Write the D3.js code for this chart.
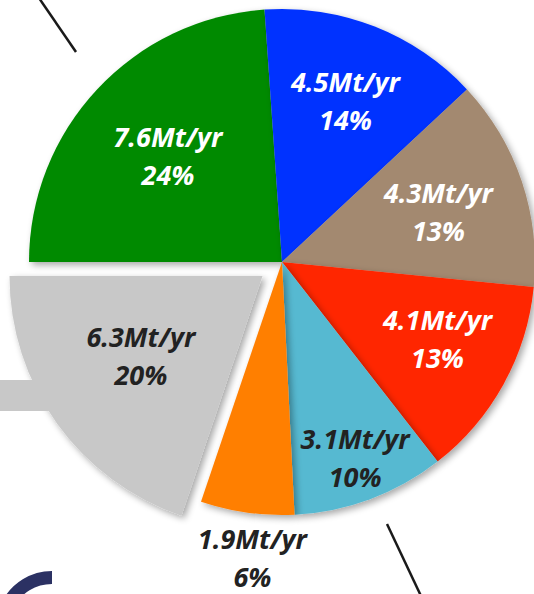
<!DOCTYPE html>
<html>
<head>
<meta charset="utf-8">
<script src="https://cdn.jsdelivr.net/npm/d3@7"></script>
<style>
  html, body { margin: 0; padding: 0; background: #ffffff; }
  svg { display: block; }
  .lbl { font-family: "Open Sans", "Noto Sans", sans-serif; font-weight: 700; font-style: italic; }
</style>
</head>
<body>
<svg id="chart" width="534" height="594"></svg>
<script>
// Annual tonnage by source
const sources = ["Green", "Blue", "Brown", "Red", "Cyan", "Orange", "Grey"];
const tonnes = [7.6, 4.5, 4.3, 4.1, 3.1, 1.9, 6.3];
const shares = ["24%", "14%", "13%", "13%", "10%", "6%", "20%"];

// Styling and label placement, kept apart from the data
const fills = ["#018a04", "#0433ff", "#a3896f", "#ff2600", "#56b9d1", "#ff7f00", "#c8c8c8"];
const inks = ["#ffffff", "#ffffff", "#ffffff", "#ffffff", "#222222", "#222222", "#222222"];
const labelR = [156, 173, 165, 173, 210, 302, 146];
const nudge = [[0, 0], [0, 0], [0, 3], [4, -7], [0, -1], [12, -3], [-3, -5]];
const explode = [0, 0, 0, 0, 0, 0, 24];

const W = 534, H = 594;
const cx = 282, cy = 262, R = 253;

const svg = d3.select("#chart");

const defs = svg.append("defs");
const f = defs.append("filter").attr("id", "soft").attr("x", "-20%").attr("y", "-20%").attr("width", "140%").attr("height", "140%");
f.append("feGaussianBlur").attr("in", "SourceAlpha").attr("stdDeviation", 3.5).attr("result", "b");
f.append("feOffset").attr("in", "b").attr("dx", 3).attr("dy", 3).attr("result", "o");
f.append("feComponentTransfer").attr("in", "o").attr("result", "s")
  .append("feFuncA").attr("type", "linear").attr("slope", 0.35);
const fm = f.append("feMerge");
fm.append("feMergeNode").attr("in", "s");
fm.append("feMergeNode").attr("in", "SourceGraphic");

const pie = d3.pie().sort(null).value(d => d)
  .startAngle(-Math.PI / 2).endAngle(Math.PI * 1.5);
const arcs = pie(tonnes);
const arc = d3.arc().innerRadius(0).outerRadius(R);

function offset(a, dist) {
  const mid = (a.startAngle + a.endAngle) / 2;
  return [Math.sin(mid) * dist, -Math.cos(mid) * dist];
}

// decorative leader strokes
svg.append("line").attr("x1", 39).attr("y1", -2).attr("x2", 76).attr("y2", 52)
  .attr("stroke", "#1a1a1a").attr("stroke-width", 2.5);
svg.append("line").attr("x1", 387).attr("y1", 524).attr("x2", 421).attr("y2", 596)
  .attr("stroke", "#1a1a1a").attr("stroke-width", 2.5);

const g = svg.append("g").attr("transform", `translate(${cx},${cy})`);

const slices = g.selectAll("g.slice").data(arcs).enter().append("g")
  .attr("class", "slice")
  .attr("filter", "url(#soft)")
  .attr("transform", (d, i) => { const o = offset(d, explode[i]); return `translate(${o[0]},${o[1]})`; });
slices.append("path").attr("d", arc).attr("fill", (d, i) => fills[i]);

// grey connector bar feeding into the detached slice
svg.append("rect").attr("x", 0).attr("y", 380).attr("width", 70).attr("height", 31)
  .attr("fill", fills[6]);

// labels
const labels = g.selectAll("g.label").data(arcs).enter().append("g")
  .attr("class", "label")
  .attr("transform", (d, i) => {
    const o = offset(d, explode[i]);
    const p = offset(d, labelR[i]);
    return `translate(${o[0] + p[0] + nudge[i][0]},${o[1] + p[1] + nudge[i][1]})`;
  });
labels.append("text").attr("class", "lbl")
  .attr("text-anchor", "middle").attr("font-size", 27)
  .attr("fill", (d, i) => inks[i])
  .attr("y", -9)
  .text((d, i) => `${tonnes[i]}Mt/yr`);
labels.append("text").attr("class", "lbl")
  .attr("text-anchor", "middle").attr("font-size", 27)
  .attr("fill", (d, i) => inks[i])
  .attr("y", 29)
  .text((d, i) => shares[i]);

// navy ring fragment at lower left
const ring = d3.arc().innerRadius(43).outerRadius(56).startAngle(-Math.PI * 0.7).endAngle(0);
svg.append("path").attr("transform", "translate(52,627)").attr("d", ring()).attr("fill", "#2b3163");
</script>
</body>
</html>
